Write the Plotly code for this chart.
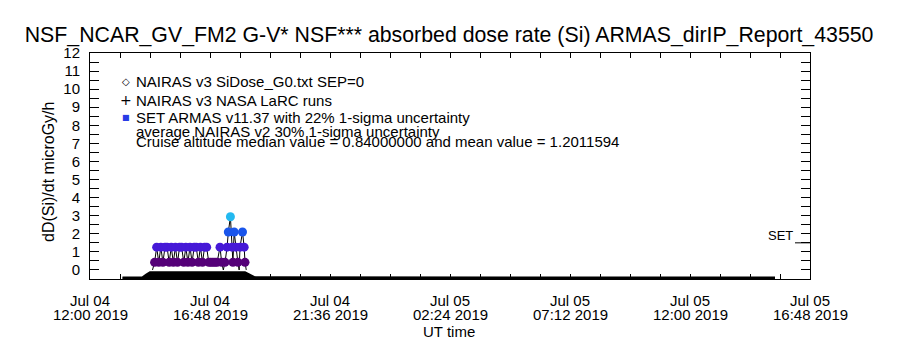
import plotly.graph_objects as go
import pandas as pd

# ---------------- data ----------------
X_START = "2019-07-04 12:00"
X_END = "2019-07-05 16:48"
Y_MIN, Y_MAX = -0.5, 12

# ARMAS measured dose rate (minutes after start time, microGy/h)
armas_start = "2019-07-04 14:30"
armas_minutes = [0, 5, 10, 15, 20, 25, 30, 35, 40, 45, 50, 55, 60, 65, 70, 75, 80, 85,
                 90, 95, 100, 105, 110, 115, 120, 125, 130, 135, 140, 145, 150, 155,
                 162, 166, 170, 174, 179, 182, 187, 191, 193, 196, 200, 205, 208, 210,
                 216, 220, 222, 225]
armas_dose = [0, 0.42, 1.26, 0.42, 1.26, 0.42, 1.26, 1.26, 0.42, 1.26, 0.42, 1.26,
              0.42, 1.26, 1.26, 0.42, 1.26, 0.42, 1.26, 0.42, 1.26, 1.26, 0.42, 1.26,
              0.42, 1.26, 1.26, 0.42, 0.42, 0.42, 0.42, 0.42,
              1.26, 0.42, 0, 0.42, 1.26, 2.1, 2.94, 1.26, 0.42, 2.1, 1.26, 0.42, 0, 1.26,
              2.1, 1.26, 0.42, 0]

# NAIRAS model (hours after X_START, microGy/h as drawn)
nairas_hours = [1.3, 2.1, 2.25, 2.4, 6.2, 6.3, 6.45, 6.6, 27.4]
nairas_dose = [-0.42, -0.40, -0.25, -0.12, -0.12, -0.2, -0.32, -0.41, -0.42]

# axis tick labels
tick_times = ["2019-07-04 12:00", "2019-07-04 16:48", "2019-07-04 21:36",
              "2019-07-05 02:24", "2019-07-05 07:12", "2019-07-05 12:00",
              "2019-07-05 16:48"]
tick_line1 = ["Jul 04", "Jul 04", "Jul 04", "Jul 05", "Jul 05", "Jul 05", "Jul 05"]
tick_line2 = ["12:00 2019", "16:48 2019", "21:36 2019", "02:24 2019",
              "07:12 2019", "12:00 2019", "16:48 2019"]
y_ticks = list(range(0, 13))

title_text = "NSF_NCAR_GV_FM2 G-V* NSF*** absorbed dose rate (Si) ARMAS_dirIP_Report_43550"
legend_text = ["NAIRAS v3 SiDose_G0.txt SEP=0",
               "NAIRAS v3 NASA LaRC runs",
               "SET ARMAS v11.37 with 22% 1-sigma uncertainty",
               "average NAIRAS v2 30% 1-sigma uncertainty",
               "Cruise altitude median value = 0.84000000 and mean value = 1.2011594"]
SET_LEVEL = 1.5

# ---------------- figure ----------------
FONT = "Liberation Sans"
t0 = pd.Timestamp(X_START)
a0 = pd.Timestamp(armas_start)
armas_t = [a0 + pd.Timedelta(minutes=m) for m in armas_minutes]
nairas_t = [t0 + pd.Timedelta(hours=h) for h in nairas_hours]

fig = go.Figure()
# baseline at axis floor for filling the NAIRAS curve
fig.add_trace(go.Scatter(x=nairas_t, y=[Y_MIN] * len(nairas_t), mode="lines",
                         line=dict(width=0, color="black"), showlegend=False,
                         hoverinfo="skip"))
fig.add_trace(go.Scatter(x=nairas_t, y=nairas_dose, mode="lines", fill="tonexty",
                         fillcolor="black", line=dict(color="black", width=2),
                         showlegend=False))
fig.add_trace(go.Scatter(x=armas_t, y=armas_dose, mode="lines",
                         line=dict(color="black", width=1), showlegend=False))
mk_t = [t for t, v in zip(armas_t, armas_dose) if v > 0]
mk_v = [v for v in armas_dose if v > 0]
cscale = [[0.0, "rgb(0,0,0)"], [0.14, "rgb(85,0,120)"], [0.42, "rgb(70,25,215)"],
          [0.70, "rgb(25,85,235)"], [0.98, "rgb(35,185,240)"], [1.0, "rgb(35,190,240)"]]
fig.add_trace(go.Scatter(x=mk_t, y=mk_v, mode="markers",
                         marker=dict(color=mk_v, colorscale=cscale, cmin=0, cmax=3,
                                     size=9, line=dict(width=0)),
                         showlegend=False))

fig.update_layout(
    width=900, height=350,
    margin=dict(l=90, r=90, t=53, b=71),
    plot_bgcolor="white", paper_bgcolor="white",
    font=dict(family=FONT, size=15, color="black"),
    title=dict(text=title_text, x=0.499, xanchor="center", y=1 - 35 / 350,
               yanchor="middle", yref="container",
               font=dict(family=FONT, size=21.3, color="black")),
    showlegend=False,
)
fig.update_xaxes(
    type="date", range=[X_START, X_END],
    tickvals=tick_times, showticklabels=False,
    ticks="inside", ticklen=5, tickcolor="black",
    minor=dict(dtick=1.2 * 3600 * 1000, tick0=X_START, ticks="inside", ticklen=5,
               tickcolor="black"),
    showline=True, linecolor="black", linewidth=1, mirror="ticks",
    showgrid=False, zeroline=False,
)
fig.update_yaxes(
    range=[Y_MIN, Y_MAX], tickvals=y_ticks,
    ticks="inside", ticklen=9, tickcolor="black", ticklabelstandoff=6,
    minor=dict(dtick=0.5, tick0=0, ticks="inside", ticklen=9, tickcolor="black"),
    showline=True, linecolor="black", linewidth=1, mirror="ticks",
    showgrid=False, zeroline=False, tickfont=dict(size=15),
)

ann = []
for t, l1, l2 in zip(tick_times, tick_line1, tick_line2):
    ann.append(dict(x=t, xref="x", y=0, yref="paper", text=l1, showarrow=False,
                    xanchor="center", yanchor="middle", yshift=-21,
                    font=dict(size=15)))
    ann.append(dict(x=t, xref="x", y=0, yref="paper", text=l2, showarrow=False,
                    xanchor="center", yanchor="middle", yshift=-35,
                    font=dict(size=15)))
ann.append(dict(x=0.4986, xref="paper", y=0, yref="paper", text="UT time",
                showarrow=False, xanchor="center", yanchor="middle", yshift=-52,
                font=dict(size=15)))
ann.append(dict(x=(48 - 90) / 720, xref="paper", y=(279 - 172) / 226, yref="paper",
                text="dD(Si)/dt microGy/h", textangle=-90, showarrow=False,
                xanchor="center", yanchor="middle", font=dict(size=16)))
# legend-like text block
leg_y = [81, 100, 117, 131, 141]
for txt, yy in zip(legend_text, leg_y):
    ann.append(dict(x=(134 - 90) / 720, xref="paper", y=(279 - yy) / 226, yref="paper",
                    text=txt, showarrow=False, xanchor="left", yanchor="middle",
                    font=dict(size=15)))
sym = [("◇", "black", 10, 81), ("+", "black", 14, 100), ("■", "rgb(40,60,230)", 8, 117)]
for s, c, sz, yy in sym:
    ann.append(dict(x=(126 - 90) / 720, xref="paper", y=(279 - yy) / 226, yref="paper",
                    text=s, showarrow=False, xanchor="center", yanchor="middle",
                    font=dict(size=sz, color=c, family="DejaVu Sans")))
ann.append(dict(x=1, xref="paper", y=SET_LEVEL, yref="y", text="SET",
                showarrow=False, xanchor="right", yanchor="bottom", xshift=-15,
                yshift=-2, font=dict(size=13)))
fig.update_layout(annotations=ann)
fig.add_shape(type="line", xref="paper", yref="y", x0=(795 - 90) / 720, x1=1,
              y0=SET_LEVEL, y1=SET_LEVEL, line=dict(color="black", width=1))

fig.write_html("out.html")
